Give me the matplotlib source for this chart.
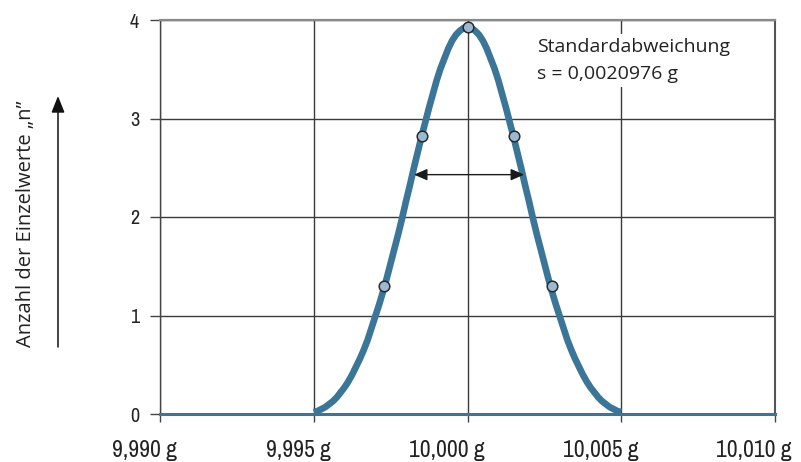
import matplotlib
matplotlib.use("Agg")
import matplotlib.pyplot as plt
import matplotlib.transforms as mtransforms
from matplotlib.patches import FancyArrowPatch

# ---- data ----
# curve: deviation from 10,000 g in mg, and height "n"
curve_dev_mg = [-5.0, -4.875, -4.75, -4.625, -4.5, -4.375, -4.25, -4.125,
                -4.0, -3.875, -3.75, -3.625, -3.5, -3.375, -3.25, -3.125,
                -3.0, -2.875, -2.75, -2.625, -2.5, -2.375, -2.25, -2.125,
                -2.0, -1.875, -1.75, -1.625, -1.5, -1.375, -1.25, -1.125,
                -1.0, -0.875, -0.75, -0.625, -0.5, -0.375, -0.25, -0.125,
                0.0,
                0.125, 0.25, 0.375, 0.5, 0.625, 0.75, 0.875, 1.0,
                1.125, 1.25, 1.375, 1.5, 1.625, 1.75, 1.875, 2.0,
                2.125, 2.25, 2.375, 2.5, 2.625, 2.75, 2.875, 3.0,
                3.125, 3.25, 3.375, 3.5, 3.625, 3.75, 3.875, 4.0,
                4.125, 4.25, 4.375, 4.5, 4.625, 4.75, 4.875, 5.0]
curve_n = [0.02, 0.03, 0.05, 0.07, 0.10, 0.13, 0.17, 0.22,
           0.27, 0.33, 0.40, 0.48, 0.56, 0.65, 0.75, 0.87,
           0.99, 1.11, 1.24, 1.38, 1.53, 1.68, 1.83, 1.99,
           2.16, 2.32, 2.49, 2.65, 2.81, 2.96, 3.11, 3.25,
           3.39, 3.51, 3.61, 3.71, 3.79, 3.85, 3.89, 3.92,
           3.93,
           3.92, 3.89, 3.85, 3.79, 3.71, 3.61, 3.51, 3.39,
           3.25, 3.11, 2.96, 2.81, 2.65, 2.49, 2.32, 2.16,
           1.99, 1.83, 1.68, 1.53, 1.38, 1.24, 1.11, 0.99,
           0.87, 0.75, 0.65, 0.56, 0.48, 0.40, 0.33, 0.27,
           0.22, 0.17, 0.13, 0.10, 0.07, 0.05, 0.03, 0.02]
nominal_g = 10.000
baseline_x = [9.990, 10.010]
baseline_y = [0, 0]
point_x = [9.99728, 9.99853, 10.00000, 10.00150, 10.00275]
point_y = [1.30, 2.82, 3.93, 2.82, 1.30]
arrow_x = [9.99826, 10.00184]
arrow_y = 2.43
x_ticks = [9.990, 9.995, 10.000, 10.005, 10.010]
x_labels = ["9,990 g", "9,995 g", "10,000 g", "10,005 g", "10,010 g"]
y_ticks = [0, 1, 2, 3, 4]
y_labels = ["0", "1", "2", "3", "4"]
note_lines = ["Standardabweichung", "s = 0,0020976 g"]
y_title = "Anzahl der Einzelwerte \u201En\u201D"

curve_x = [nominal_g + d / 1000.0 for d in curve_dev_mg]

blue = "#3b7597"
tickfont = ["Archivo Narrow", "Roboto Condensed", "DejaVu Sans"]
textfont = ["Open Sans", "DejaVu Sans"]

fig = plt.figure(figsize=(8.01, 4.62), dpi=100)
ax = fig.add_axes([160 / 801, 1 - 414 / 462, 615 / 801, 394 / 462])
ax.set_xlim(9.990, 10.010)
ax.set_ylim(0, 4)

ax.set_xticks(x_ticks)
ax.set_xticklabels([""] * len(x_ticks))
ax.set_yticks(y_ticks)
ax.set_yticklabels(y_labels, fontfamily=tickfont, fontsize=14.5, color="#222")
ax.tick_params(axis="x", direction="out", length=5.5, width=1, color="#444")
ax.tick_params(axis="y", direction="out", length=7, width=1, color="#444", pad=8)

# x tick labels: right end sits a little right of the tick
xlab_tr = mtransforms.blended_transform_factory(ax.transData, ax.transAxes) + \
    mtransforms.ScaledTranslation(17 / 100, -43 / 100, fig.dpi_scale_trans)
for xv, lab in zip(x_ticks, x_labels):
    ax.text(xv, 0, lab, transform=xlab_tr, ha="right", va="baseline",
            fontfamily=tickfont, fontsize=17, color="#222", clip_on=False)

ax.grid(True, color="#3a3a3a", lw=1.0)
ax.set_axisbelow(True)
ax.spines["left"].set_color("#444")
ax.spines["left"].set_linewidth(1.0)
ax.spines["right"].set_color("#555")
ax.spines["right"].set_linewidth(1.5)
ax.spines["top"].set_color("#8a8a8a")
ax.spines["top"].set_linewidth(1.6)
ax.spines["bottom"].set_visible(False)

ax.plot(baseline_x, baseline_y, color=blue, lw=2.2, zorder=3, clip_on=False)
ax.plot(curve_x, curve_n, color=blue, lw=4.8, solid_capstyle="butt",
        solid_joinstyle="round", zorder=4, clip_on=False)
ax.scatter(point_x, point_y, s=58, facecolor="#9bbad2", edgecolor="#2a2a2a",
           linewidth=1.1, zorder=5, clip_on=False)

arr = FancyArrowPatch((arrow_x[0], arrow_y), (arrow_x[1], arrow_y),
                      arrowstyle="<|-|>,head_length=8,head_width=3.5",
                      color="#1a1a1a", lw=1.0, shrinkA=0, shrinkB=0, zorder=6)
ax.add_patch(arr)

ax.text(10.00226, 3.82, "\n".join(note_lines), fontfamily=textfont, fontsize=14,
        color="#222", ha="left", va="top", linespacing=1.65, zorder=7,
        bbox=dict(facecolor="white", edgecolor="none", pad=3))

fig.text(26 / 801, 1 - 224 / 462, y_title, rotation=90, ha="center", va="center",
         fontfamily=textfont, fontsize=14.5, color="#222")
fig.add_artist(FancyArrowPatch((58 / 801, 1 - 347 / 462), (58 / 801, 1 - 96 / 462),
                               transform=fig.transFigure,
                               arrowstyle="-|>,head_length=10,head_width=4",
                               color="#111", lw=1.1, shrinkA=0, shrinkB=0))

fig.savefig("out.png", dpi=100)
